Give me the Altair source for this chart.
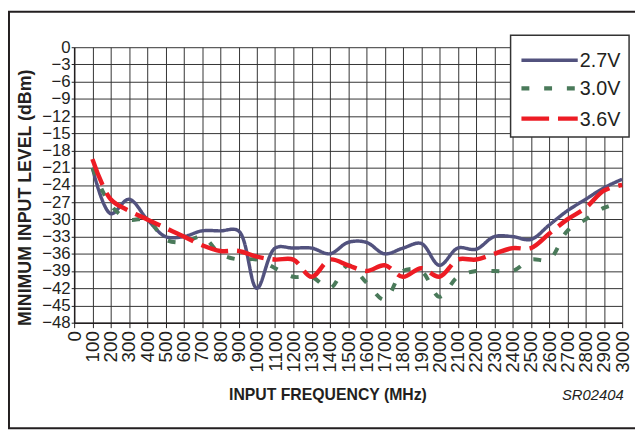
import altair as alt
import pandas as pd

# ---- data ----
freq = list(range(100, 3001, 100))
v27 = [-21, -29, -26.5, -30, -33, -33, -32, -32, -32, -42,
       -35, -35, -35, -36, -34, -34, -36, -35, -34.2, -38,
       -35, -35.2, -33, -33, -33.5, -31, -28.5, -26.5, -24.5, -23]
v30 = [-21, -27.5, -30, -30, -33.5, -34, -33, -36, -37, -37,
       -38.5, -40, -40, -42, -38, -41, -44, -39, -39, -43.5,
       -40, -39, -39, -39, -37, -37, -32, -30, -28, -27]
v36 = [-19.5, -26.5, -28.5, -30, -31.5, -33, -34.5, -35.5, -35.5, -36.5,
       -37, -37, -40, -37, -38, -39, -38, -40, -38.5, -40,
       -37, -37, -36, -35, -35, -32.5, -30, -28, -25, -24]
series_names = ["2.7V", "3.0V", "3.6V"]
x_ticks = list(range(0, 3001, 100))
y_ticks = list(range(0, -49, -3))

# ---- styles ----
series_colors = ["#52527e", "#4a7a5a", "#ed1c24"]
series_dash = [[1, 0], [8, 15], [28, 9]]
series_width = [3.5, 4.5, 4.5]
INK = "#231f20"
FONT = "Liberation Sans"

rows = []
for name, vals in zip(series_names, [v27, v30, v36]):
    for f, v in zip(freq, vals):
        rows.append({"freq": f, "level": v, "series": name})
df = pd.DataFrame(rows)
one = pd.DataFrame({"k": [0]})

W, H = 555, 279

xs = alt.Scale(domain=[0, 3000], nice=False, zero=False)
ys = alt.Scale(domain=[-48, 0], nice=False, zero=False)

frame = alt.Chart(one).mark_rect(filled=False, stroke=INK, strokeWidth=2).encode(
    x=alt.value(-66), x2=alt.value(600), y=alt.value(-36), y2=alt.value(386)
)

lines = alt.Chart(df).mark_line(interpolate="catmull-rom").encode(
    x=alt.X("freq:Q", scale=xs, axis=alt.Axis(
        values=x_ticks, title=None, labelAngle=270, labelAlign="right",
        labelBaseline="middle", labelFontSize=19, tickSize=5, labelPadding=3,
        format="d")),
    y=alt.Y("level:Q", scale=ys, axis=alt.Axis(
        values=y_ticks, title=None, labelFontSize=17, tickSize=3,
        labelPadding=1, format="d")),
    color=alt.Color("series:N", scale=alt.Scale(domain=series_names, range=series_colors), legend=None),
    strokeDash=alt.StrokeDash("series:N", scale=alt.Scale(domain=series_names, range=series_dash), legend=None),
    strokeWidth=alt.StrokeWidth("series:N", scale=alt.Scale(domain=series_names, range=series_width), legend=None),
)

ytitle = alt.Chart(one).mark_text(
    text="MINIMUM INPUT LEVEL (dBm)", angle=270, font=FONT, fontSize=18,
    fontWeight="bold", color=INK, align="center", baseline="middle"
).encode(x=alt.value(-49), y=alt.value(152.5))

xtitle = alt.Chart(one).mark_text(
    text="INPUT FREQUENCY (MHz)", font=FONT, fontSize=16, fontWeight="bold",
    color=INK, align="center", baseline="middle"
).encode(x=alt.value(257), y=alt.value(352))

code = alt.Chart(one).mark_text(
    text="SR02404", font=FONT, fontSize=15, fontStyle="italic",
    color=INK, align="left", baseline="middle"
).encode(x=alt.value(494), y=alt.value(352))

legend_box = alt.Chart(one).mark_rect(fill="white", stroke="#333333", strokeWidth=1.5).encode(
    x=alt.value(442), x2=alt.value(562), y=alt.value(-12), y2=alt.value(91)
)

legend_layers = [legend_box]
entry_y = [13.3, 41.7, 72.3]
for name, col, dash, sw, ey in zip(series_names, series_colors, series_dash, series_width, entry_y):
    legend_layers.append(
        alt.Chart(one).mark_rule(color=col, strokeDash=dash, strokeWidth=sw).encode(
            x=alt.value(453), x2=alt.value(510), y=alt.value(ey))
    )
    legend_layers.append(
        alt.Chart(one).mark_text(text=name, font=FONT, fontSize=20, color=INK,
                                 align="left", baseline="middle").encode(
            x=alt.value(512), y=alt.value(ey + 1))
    )

chart = alt.layer(frame, lines, ytitle, xtitle, code, *legend_layers).properties(
    width=W, height=H,
    padding={"left": 67, "top": 37, "right": 13, "bottom": 109},
    autosize=alt.AutoSizeParams(type="none"),
).configure_view(stroke=None).configure_axis(
    labelFont=FONT, labelColor=INK, tickColor=INK, domainColor=INK,
    domainWidth=1.5, grid=True, gridColor="#333333", gridWidth=1,
    gridOpacity=1, labelOverlap=False, labelFlush=False
)

chart.save("out.html", embed_options={"renderer": "svg", "actions": False})
